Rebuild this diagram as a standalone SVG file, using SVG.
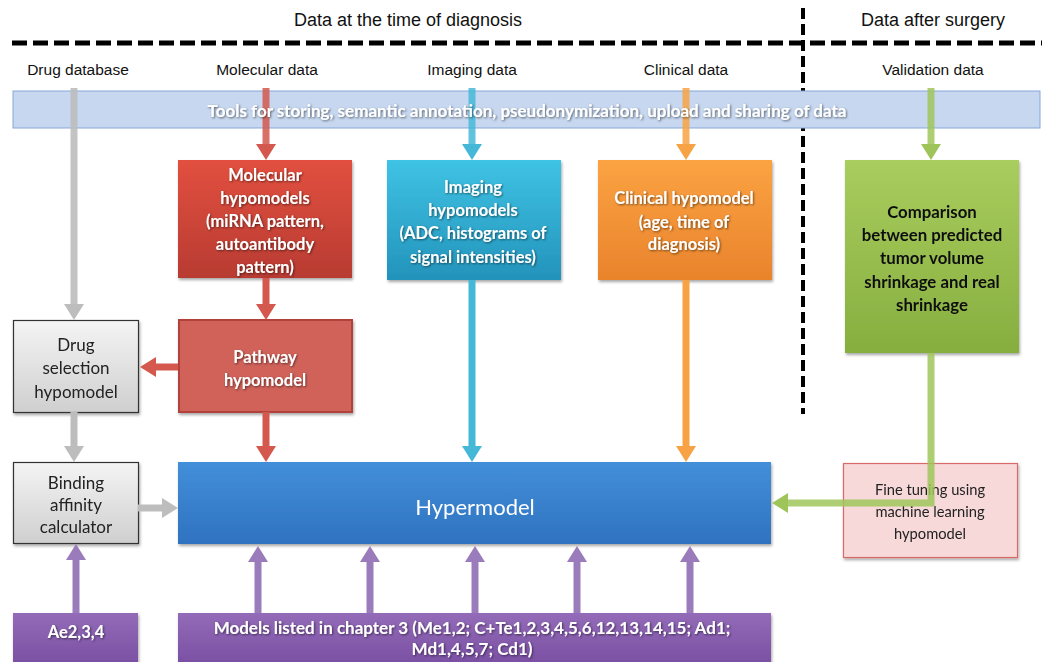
<svg xmlns="http://www.w3.org/2000/svg" width="1045" height="662" viewBox="0 0 1045 662">
<style>
.lbl{font-family:"Liberation Sans",Arial,sans-serif;font-size:15.5px;fill:#111;text-anchor:middle}
.ttl{font-family:"Liberation Sans",Arial,sans-serif;font-size:18px;fill:#111;text-anchor:middle}
.wb{font-family:Lato,"Open Sans",sans-serif;font-weight:bold;font-size:16.5px;fill:#fff;text-anchor:middle;filter:url(#ts)}
.bb{font-family:Lato,"Open Sans",sans-serif;font-weight:bold;font-size:16.8px;fill:#111;text-anchor:middle}
.dk{font-family:Lato,"Open Sans",sans-serif;font-size:17px;fill:#222;text-anchor:middle}
.sm{font-family:Lato,"Open Sans",sans-serif;font-size:14.7px;fill:#222;text-anchor:middle}
.arr{fill:none;stroke-width:7}
.box{filter:url(#ds)}
</style>
<defs>
<filter id="ds" x="-10%" y="-10%" width="125%" height="130%"><feDropShadow dx="1" dy="2" stdDeviation="1.5" flood-opacity="0.35"/></filter>
<filter id="ts" x="-5%" y="-20%" width="110%" height="150%"><feDropShadow dx="1" dy="1" stdDeviation="0.8" flood-color="#000" flood-opacity="0.55"/></filter>
<linearGradient id="gRed" x1="0" y1="0" x2="0" y2="1"><stop offset="0" stop-color="#e2503f"/><stop offset="1" stop-color="#b83b32"/></linearGradient>
<linearGradient id="gCyan" x1="0" y1="0" x2="0" y2="1"><stop offset="0" stop-color="#3fc3e4"/><stop offset="1" stop-color="#2393bb"/></linearGradient>
<linearGradient id="gOr" x1="0" y1="0" x2="0" y2="1"><stop offset="0" stop-color="#fba343"/><stop offset="1" stop-color="#e9832b"/></linearGradient>
<linearGradient id="gGr" x1="0" y1="0" x2="0" y2="1"><stop offset="0" stop-color="#a9cd5e"/><stop offset="1" stop-color="#86ae3f"/></linearGradient>
<linearGradient id="gGray" x1="0" y1="0" x2="0" y2="1"><stop offset="0" stop-color="#f4f4f4"/><stop offset="1" stop-color="#cfcfcf"/></linearGradient>
<linearGradient id="gBlue" x1="0" y1="0" x2="0" y2="1"><stop offset="0" stop-color="#438fd9"/><stop offset="1" stop-color="#2f72c0"/></linearGradient>
<linearGradient id="gPur" x1="0" y1="0" x2="0" y2="1"><stop offset="0" stop-color="#936bb8"/><stop offset="1" stop-color="#7a4fa3"/></linearGradient>
<marker id="mGray" viewBox="0 0 16 20" refX="0" refY="10" markerWidth="16" markerHeight="20" markerUnits="userSpaceOnUse" orient="auto"><path d="M0,0 L16,10 L0,20 z" fill="#bdbdbd"/></marker>
<marker id="mRed" viewBox="0 0 16 20" refX="0" refY="10" markerWidth="16" markerHeight="20" markerUnits="userSpaceOnUse" orient="auto"><path d="M0,0 L16,10 L0,20 z" fill="#d4584e"/></marker>
<marker id="mCyan" viewBox="0 0 16 20" refX="0" refY="10" markerWidth="16" markerHeight="20" markerUnits="userSpaceOnUse" orient="auto"><path d="M0,0 L16,10 L0,20 z" fill="#45b8d8"/></marker>
<marker id="mOr" viewBox="0 0 16 20" refX="0" refY="10" markerWidth="16" markerHeight="20" markerUnits="userSpaceOnUse" orient="auto"><path d="M0,0 L16,10 L0,20 z" fill="#f7a345"/></marker>
<marker id="mGr" viewBox="0 0 16 20" refX="0" refY="10" markerWidth="16" markerHeight="20" markerUnits="userSpaceOnUse" orient="auto"><path d="M0,0 L16,10 L0,20 z" fill="#9fc55a"/></marker>
<marker id="mPur" viewBox="0 0 16 20" refX="0" refY="10" markerWidth="16" markerHeight="20" markerUnits="userSpaceOnUse" orient="auto"><path d="M0,0 L16,10 L0,20 z" fill="#9a7cbc"/></marker>
</defs>
<rect width="1045" height="662" fill="#fff"/>

<g id="headers">
<text class="ttl" x="408" y="26">Data at the time of diagnosis</text>
<text class="ttl" x="933" y="26">Data after surgery</text>
<line x1="12" y1="43" x2="1042" y2="43" stroke="#000" stroke-width="5" stroke-dasharray="15,6"/>
<line x1="803" y1="8" x2="803" y2="414" stroke="#000" stroke-width="4" stroke-dasharray="11,5"/>
<text class="lbl" x="78" y="75">Drug database</text>
<text class="lbl" x="267" y="75">Molecular data</text>
<text class="lbl" x="472" y="75">Imaging data</text>
<text class="lbl" x="686" y="75">Clinical data</text>
<text class="lbl" x="933" y="75">Validation data</text>
</g>

<g id="tools-band">
<rect x="13" y="91" width="1027" height="37" fill="#c6d7ef" stroke="#86a7d8" stroke-width="1"/>
</g>

<g id="molecular-hypomodels" class="box">
<rect x="178" y="160" width="174" height="118" fill="url(#gRed)"/>
<text class="wb" x="265" y="181">Molecular</text>
<text class="wb" x="265" y="204">hypomodels</text>
<text class="wb" x="265" y="227">(miRNA pattern,</text>
<text class="wb" x="265" y="250">autoantibody</text>
<text class="wb" x="265" y="273">pattern)</text>
</g>
<g id="imaging-hypomodels" class="box">
<rect x="387" y="160" width="174" height="120" fill="url(#gCyan)"/>
<text class="wb" x="473" y="193">Imaging</text>
<text class="wb" x="473" y="216">hypomodels</text>
<text class="wb" x="473" y="239">(ADC, histograms of</text>
<text class="wb" x="473" y="263">signal intensities)</text>
</g>
<g id="clinical-hypomodel" class="box">
<rect x="598" y="160" width="174" height="120" fill="url(#gOr)"/>
<text class="wb" x="684" y="204">Clinical hypomodel</text>
<text class="wb" x="684" y="228">(age, time of</text>
<text class="wb" x="684" y="250">diagnosis)</text>
</g>
<g id="comparison" class="box">
<rect x="845" y="160" width="174" height="193" fill="url(#gGr)"/>
<text class="bb" x="932" y="218">Comparison</text>
<text class="bb" x="932" y="241">between predicted</text>
<text class="bb" x="932" y="264">tumor volume</text>
<text class="bb" x="932" y="288">shrinkage and real</text>
<text class="bb" x="932" y="311">shrinkage</text>
</g>
<g id="pathway-hypomodel" class="box">
<rect x="179" y="320" width="173" height="92" fill="#d0625a" stroke="#b23f3a" stroke-width="2"/>
<text class="wb" x="265" y="363">Pathway</text>
<text class="wb" x="265" y="386">hypomodel</text>
</g>
<g id="drug-selection" class="box">
<rect x="13.5" y="320.5" width="125" height="92" fill="url(#gGray)" stroke="#333" stroke-width="1.2"/>
<text class="dk" x="76" y="351">Drug</text>
<text class="dk" x="76" y="374">selection</text>
<text class="dk" x="76" y="398">hypomodel</text>
</g>
<g id="binding-affinity" class="box">
<rect x="13.5" y="462.5" width="125" height="81" fill="url(#gGray)" stroke="#333" stroke-width="1.2"/>
<text class="dk" x="76" y="489">Binding</text>
<text class="dk" x="76" y="511">affinity</text>
<text class="dk" x="76" y="533">calculator</text>
</g>
<g id="hypermodel" class="box">
<rect x="178" y="462" width="593" height="82" fill="url(#gBlue)"/>
<text x="475" y="515" text-anchor="middle" font-family="Lato,'Open Sans',sans-serif" font-size="22" fill="#fff">Hypermodel</text>
</g>
<g id="fine-tuning" class="box">
<rect x="843.5" y="463.5" width="174" height="94" fill="#f8d9d9" stroke="#d86a6a" stroke-width="1.2"/>
<text class="sm" x="930" y="495">Fine tuning using</text>
<text class="sm" x="930" y="517">machine learning</text>
<text class="sm" x="930" y="539">hypomodel</text>
</g>
<g id="ae-models" class="box">
<rect x="13" y="613" width="125" height="52" fill="url(#gPur)"/>
<text class="wb" x="76" y="638">Ae2,3,4</text>
</g>
<g id="chapter3-models" class="box">
<rect x="178" y="613" width="593" height="52" fill="url(#gPur)"/>
<text class="wb" x="472" y="634" style="font-size:17px">Models listed in chapter 3 (Me1,2; C+Te1,2,3,4,5,6,12,13,14,15; Ad1;</text>
<text class="wb" x="472" y="655" style="font-size:17px">Md1,4,5,7; Cd1)</text>
</g>

<g id="connectors">
<path class="arr" d="M74,88 V304" stroke="#bdbdbd" stroke-opacity="0.9" marker-end="url(#mGray)"/>
<path class="arr" d="M74,412 V446" stroke="#bdbdbd" marker-end="url(#mGray)"/>
<path class="arr" d="M138,508 H162" stroke="#bdbdbd" stroke-width="9" marker-end="url(#mGray)"/>
<path class="arr" d="M266,88 V144" stroke="#d4584e" stroke-opacity="0.85" marker-end="url(#mRed)"/>
<path class="arr" d="M266,278 V304" stroke="#d4584e" marker-end="url(#mRed)"/>
<path class="arr" d="M178,367 H156" stroke="#d4584e" stroke-width="9" marker-end="url(#mRed)"/>
<path class="arr" d="M266,412 V446" stroke="#d4584e" marker-end="url(#mRed)"/>
<path class="arr" d="M472,88 V144" stroke="#45b8d8" stroke-opacity="0.85" marker-end="url(#mCyan)"/>
<path class="arr" d="M472,280 V446" stroke="#45b8d8" marker-end="url(#mCyan)"/>
<path class="arr" d="M686,88 V144" stroke="#f7a345" stroke-opacity="0.85" marker-end="url(#mOr)"/>
<path class="arr" d="M686,280 V446" stroke="#f7a345" marker-end="url(#mOr)"/>
<path class="arr" d="M931,88 V144" stroke="#9fc55a" stroke-opacity="0.85" marker-end="url(#mGr)"/>
<path class="arr" d="M931,353 V503 H788" stroke="#9fc55a" stroke-opacity="0.85" stroke-linejoin="miter" marker-end="url(#mGr)"/>
<path class="arr" d="M76,613 V560" stroke="#9a7cbc" marker-end="url(#mPur)"/>
<path class="arr" d="M258,613 V562" stroke="#9a7cbc" marker-end="url(#mPur)"/>
<path class="arr" d="M370,613 V562" stroke="#9a7cbc" marker-end="url(#mPur)"/>
<path class="arr" d="M475,613 V562" stroke="#9a7cbc" marker-end="url(#mPur)"/>
<path class="arr" d="M577,613 V562" stroke="#9a7cbc" marker-end="url(#mPur)"/>
<path class="arr" d="M690,613 V562" stroke="#9a7cbc" marker-end="url(#mPur)"/>
</g>

<g id="tools-label">
<text class="wb" x="527" y="117" style="font-size:17px">Tools for storing, semantic annotation, pseudonymization, upload and sharing of data</text>
</g>
</svg>
